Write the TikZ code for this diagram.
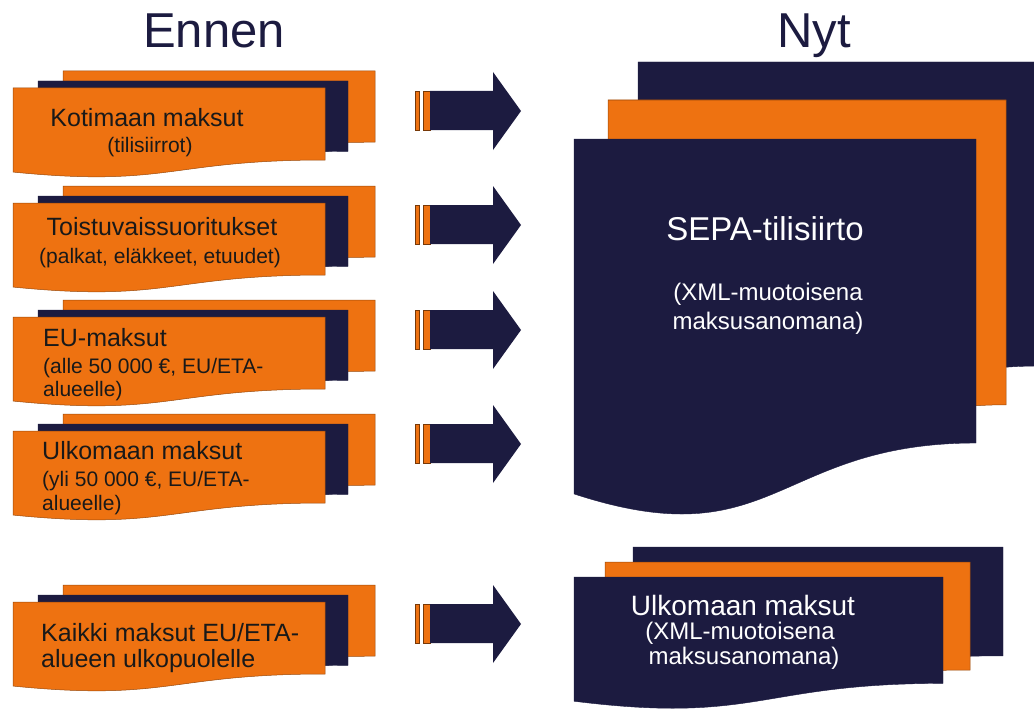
\documentclass[tikz,border=0pt]{standalone}
\usepackage{fontspec}
\setmainfont{Liberation Sans}

\definecolor{sepaorange}{RGB}{238,114,17}
\definecolor{sepanavy}{RGB}{28,27,64}

\tikzset{
    orangedoc/.style={fill=sepaorange, draw=sepaorange!65!black, line width=0.5pt},
    navydoc/.style={fill=sepanavy, draw=sepanavy},
    barbox/.style={fill=sepaorange, draw=sepaorange!50!black, line width=0.5pt},
    title/.style={anchor=base, text=sepanavy, font=\fontsize{49}{55}\selectfont},
    maintext/.style={anchor=base west, inner sep=0pt, text=black!90, font=\fontsize{25}{28}\selectfont},
    subtext/.style={anchor=base west, inner sep=0pt, text=black!90, font=\fontsize{21}{24}\selectfont},
    whitetext/.style={anchor=base, inner sep=0pt, text=white}
}

% document sheet with wavy bottom: style, left, top, width, height
\newcommand{\paperdoc}[5]{%
    \filldraw[#1] (#2,#3) -- ({#2+#4},#3) -- ({#2+#4},{#3+0.8*#5})
        .. controls ({#2+0.5*#4},{#3+0.8*#5}) and ({#2+0.5*#4},{#3+1.107*#5})
        .. (#2,{#3+0.934*#5}) -- cycle;}

% three sheets on the left, argument is top of the back sheet
\newcommand{\paystack}[1]{%
    \paperdoc{orangedoc}{63}{#1}{312}{89}
    \paperdoc{navydoc}{38}{#1+10}{310}{88}
    \paperdoc{orangedoc}{13}{#1+17}{312}{90}}

% block arrow with two bars, argument is its middle
\newcommand{\movearrow}[1]{%
    \filldraw[barbox] (415,{#1-19}) rectangle (419,{#1+20});
    \filldraw[barbox] (423,{#1-19}) rectangle (430,{#1+20});
    \fill[sepanavy] (430,{#1-19}) -- (493,{#1-19}) -- (493,{#1-38}) -- (521,{#1+1})
        -- (493,{#1+40}) -- (493,{#1+20}) -- (430,{#1+20}) -- cycle;}

\begin{document}
\begin{tikzpicture}[x=1pt, y=-1pt]
    \clip (0,0) rectangle (1034,709);
    \fill[white] (0,0) rectangle (1034,709);

    \node[title] (ennen) at (214,48) {Ennen};
    \node[title] (nyt) at (814,48) {Nyt};

    % left side
    \paystack{71}
    \paystack{186}
    \paystack{300}
    \paystack{414}
    \paystack{585}

    \node[maintext, anchor=base] (koti) at (147,126) {Kotimaan maksut};
    \node[subtext, anchor=base] (kotisub) at (150,152) {(tilisiirrot)};

    \node[maintext, anchor=base] (toist) at (162,235) {Toistuvaissuoritukset};
    \node[subtext, anchor=base] (toistsub) at (160,263) {(palkat, eläkkeet, etuudet)};

    \node[maintext] (eu) at (43,346) {EU-maksut};
    \node[subtext] (eusub) at (43,373) {(alle 50 000 €, EU/ETA-};
    \node[subtext] (eusubb) at (43,396) {alueelle)};

    \node[maintext] (ulko) at (42,459) {Ulkomaan maksut};
    \node[subtext] (ulkosub) at (42,486) {(yli 50 000 €, EU/ETA-};
    \node[subtext] (ulkosubb) at (42,510) {alueelle)};

    \node[maintext] (kaikki) at (41,641) {Kaikki maksut EU/ETA-};
    \node[maintext] (kaikkib) at (41,667) {alueen ulkopuolelle};

    % arrows
    \movearrow{110}
    \movearrow{224}
    \movearrow{329}
    \movearrow{443}
    \movearrow{623}

    % right side
    \paperdoc{navydoc}{638}{62}{402}{380}
    \paperdoc{orangedoc}{608}{100}{398}{381}
    \paperdoc{navydoc}{574}{139}{402}{380}

    \node[whitetext, font=\fontsize{33}{38}\selectfont] (sepa) at (765,240) {SEPA-tilisiirto};
    \node[whitetext, font=\fontsize{24}{28}\selectfont] (xml) at (768,300) {(XML-muotoisena};
    \node[whitetext, font=\fontsize{24}{28}\selectfont] (xmlb) at (768,329) {maksusanomana)};

    \paperdoc{navydoc}{633}{547}{370}{136}
    \paperdoc{orangedoc}{605}{562}{365}{135}
    \paperdoc{navydoc}{574}{577}{369}{133}

    \node[whitetext, font=\fontsize{28}{32}\selectfont] (ulkonyt) at (743,615) {Ulkomaan maksut};
    \node[whitetext, font=\fontsize{24}{28}\selectfont] (ulkoxml) at (740,639) {(XML-muotoisena};
    \node[whitetext, font=\fontsize{24}{28}\selectfont] (ulkoxmlb) at (744,664) {maksusanomana)};
\end{tikzpicture}
\end{document}
